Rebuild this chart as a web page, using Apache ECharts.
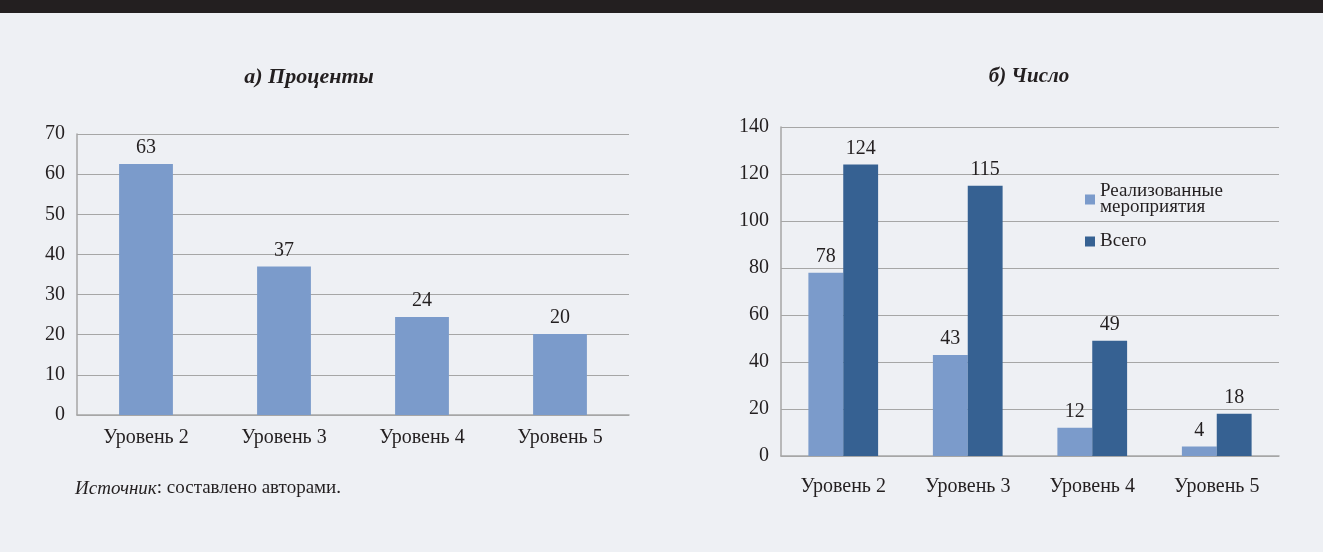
<!DOCTYPE html>
<html><head><meta charset="utf-8">
<script src="https://cdn.jsdelivr.net/npm/echarts@6/dist/echarts.min.js"></script>
<style>html,body{margin:0;padding:0;background:#eef0f4;}#c{width:1323px;height:552px;}</style>
</head><body><div id="c"></div>
<script>
const categories = ['Уровень 2', 'Уровень 3', 'Уровень 4', 'Уровень 5'];
const percentValues = [62.5, 37, 24.4, 20.2];
const realizedValues = [78, 43, 12, 4];
const totalValues = [124, 115, 49, 18];
const seriesNames = ['Реализованные\nмероприятия', 'Всего'];
const leftTicks = { min: 0, max: 70, interval: 10 };
const rightTicks = { min: 0, max: 140, interval: 20 };

const FONT = '"Liberation Serif", "DejaVu Serif", serif';
const TXT = '#231f20';
const GRID = '#a6a6a6';
const LIGHT = '#7b9bcb';
const DARK = '#366192';

const chart = echarts.init(document.getElementById('c'));
function xAxis(idx, margin) {
  return {
    type: 'category', gridIndex: idx, data: categories,
    axisLine: { lineStyle: { color: GRID, width: 1.5 } },
    axisTick: { show: false },
    axisLabel: { color: TXT, fontFamily: FONT, fontSize: 20, margin: margin }
  };
}
function yAxis(idx, t) {
  return {
    type: 'value', gridIndex: idx, min: t.min, max: t.max, interval: t.interval,
    axisLine: { show: true, lineStyle: { color: GRID, width: 1.5 } },
    axisTick: { show: false },
    splitLine: { lineStyle: { color: GRID, width: 1.2 } },
    axisLabel: { color: TXT, fontFamily: FONT, fontSize: 20, margin: 12 }
  };
}
const labelCfg = { show: true, position: 'top', distance: 6, color: TXT, fontFamily: FONT, fontSize: 20,
  formatter: p => Math.round(p.value) };

chart.setOption({
  backgroundColor: '#eef0f4',
  animation: false,
  graphic: [
    { type: 'rect', left: 0, top: 0, shape: { width: 1323, height: 13 }, style: { fill: '#231f20' } },
    { type: 'text', left: 75, top: 479, style: {
      text: '{i|Источник}: составлено авторами.', fill: TXT, font: '19px ' + FONT,
      rich: { i: { fontStyle: 'italic', fontFamily: FONT, fontSize: 19, fill: TXT } } } }
  ],
  title: [
    { text: 'а) Проценты', left: 304, top: 61, textAlign: 'center',
      textStyle: { fontFamily: FONT, fontStyle: 'italic', fontWeight: 'bold', fontSize: 22, color: TXT } },
    { text: 'б) Число', left: 1024, top: 61, textAlign: 'center',
      textStyle: { fontFamily: FONT, fontStyle: 'italic', fontWeight: 'bold', fontSize: 21, color: TXT } }
  ],
  legend: {
    orient: 'vertical', left: 1080, top: 177, itemWidth: 10, itemHeight: 10, itemGap: 15,
    icon: 'rect', data: seriesNames,
    textStyle: { color: TXT, fontFamily: FONT, fontSize: 19, lineHeight: 16 }
  },
  grid: [
    { left: 77, right: 694, top: 134, bottom: 137 },
    { left: 781, right: 44, top: 127, bottom: 96 }
  ],
  xAxis: [xAxis(0, 13), xAxis(1, 21)],
  yAxis: [yAxis(0, leftTicks), yAxis(1, rightTicks)],
  series: [
    { type: 'bar', name: 'Проценты', xAxisIndex: 0, yAxisIndex: 0, data: percentValues,
      barWidth: '39%', itemStyle: { color: LIGHT }, label: labelCfg },
    { type: 'bar', name: seriesNames[0], xAxisIndex: 1, yAxisIndex: 1, data: realizedValues,
      barWidth: '28%', barGap: '0%', itemStyle: { color: LIGHT }, label: labelCfg },
    { type: 'bar', name: seriesNames[1], xAxisIndex: 1, yAxisIndex: 1, data: totalValues,
      barWidth: '28%', barGap: '0%', itemStyle: { color: DARK }, label: labelCfg }
  ]
});
</script></body></html>
